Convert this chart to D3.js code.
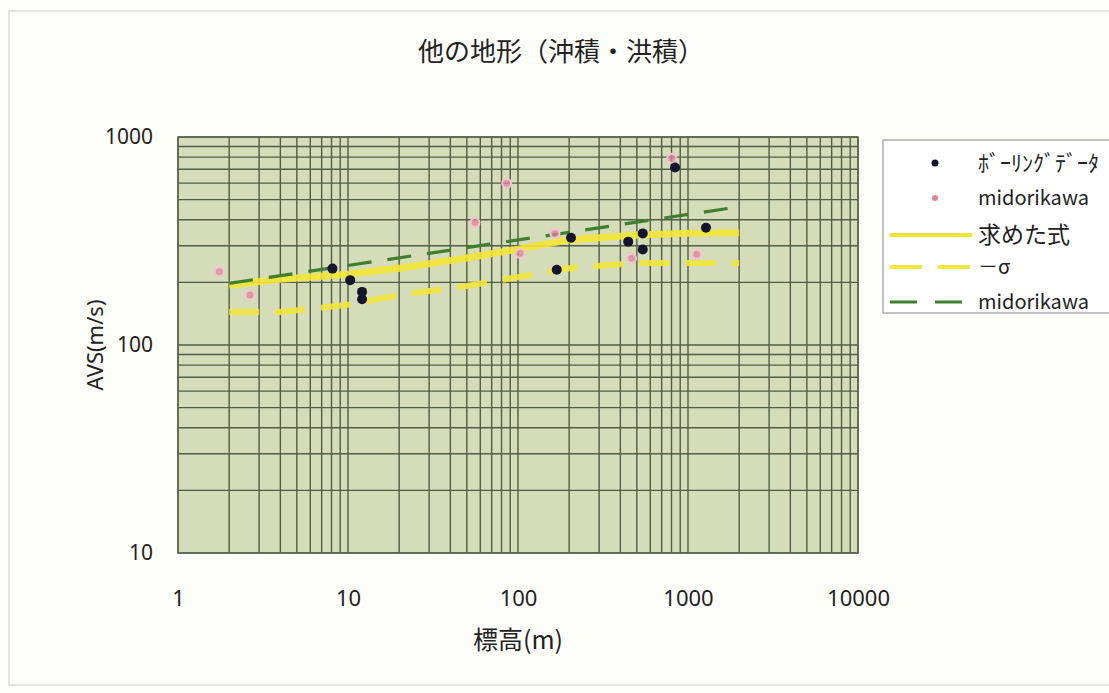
<!DOCTYPE html>
<html>
<head>
<meta charset="utf-8">
<script src="https://cdn.jsdelivr.net/npm/d3@7"></script>
<style>
  html, body { margin: 0; padding: 0; background: #fdfdf9; overflow: hidden; }
  svg { display: block; }
  text { font-family: "Noto Sans CJK JP", "Noto Sans", sans-serif; fill: #222; }
</style>
</head>
<body>
<svg id="chart" width="1109" height="693"></svg>
<script>
// Boring-log data: elevation (m) vs average S-wave velocity (m/s)
const boringElev = [8.1, 10.3, 12.1, 12.1, 169, 205, 445, 542, 542, 1276, 839];
const boringAvs  = [233, 205, 180, 166, 230, 328, 314, 344, 288, 366, 714];

// Reference points from Midorikawa
const midoriElev = [1.75, 2.65, 85.8, 55.9, 165, 103, 802, 466, 1125];
const midoriAvs  = [225, 174, 599, 388, 344, 276, 790, 261, 273];

// Fitted relation (solid yellow)
const fitElev = [2, 4, 10, 20, 50, 100, 200, 500, 1000, 2000];
const fitAvs  = [194, 207, 219, 234, 262, 289, 320, 338, 345, 346];

// Fit minus one standard deviation (dashed yellow)
const sigmaElev = [2, 4, 10, 20, 50, 100, 200, 500, 1000, 2000];
const sigmaAvs  = [144, 144, 156, 174, 192, 212, 234, 248, 248, 248];

// Midorikawa relation (dashed green)
const midoriLineElev = [2, 2000];
const midoriLineAvs  = [198, 462];

const xTickValues = [1, 10, 100, 1000, 10000];
const yTickValues = [10, 100, 1000];

const titleText = "他の地形（沖積・洪積）";
const xLabel = "標高(m)";
const yLabel = "AVS(m/s)";
const legendLabels = ["ﾎﾞｰﾘﾝｸﾞﾃﾞｰﾀ", "midorikawa", "求めた式", "－σ", "midorikawa"];

const svg = d3.select("#chart");

// chart area frame
svg.append("rect")
  .attr("x", 9).attr("y", 11).attr("width", 1120).attr("height", 674)
  .attr("fill", "none").attr("stroke", "#d4d4d0").attr("stroke-width", 1.2);

const plot = { left: 178, right: 858, top: 137, bottom: 553 };

const x = d3.scaleLog().domain([1, 10000]).range([plot.left, plot.right]);
const y = d3.scaleLog().domain([10, 1000]).range([plot.bottom, plot.top]);

// plot background
svg.append("rect")
  .attr("x", plot.left).attr("y", plot.top)
  .attr("width", plot.right - plot.left).attr("height", plot.bottom - plot.top)
  .attr("fill", "#d5dcba");

// log grid (major and minor lines)
const grid = svg.append("g").attr("stroke", "#3a4830").attr("stroke-width", 1.4).attr("opacity", 0.85);
grid.selectAll("line.v").data(x.ticks()).join("line")
  .attr("class", "v")
  .attr("x1", d => x(d)).attr("x2", d => x(d))
  .attr("y1", plot.top).attr("y2", plot.bottom);
grid.selectAll("line.h").data(y.ticks()).join("line")
  .attr("class", "h")
  .attr("x1", plot.left).attr("x2", plot.right)
  .attr("y1", d => y(d)).attr("y2", d => y(d));

// plot border
svg.append("rect")
  .attr("x", plot.left).attr("y", plot.top)
  .attr("width", plot.right - plot.left).attr("height", plot.bottom - plot.top)
  .attr("fill", "none").attr("stroke", "#5a6650").attr("stroke-width", 1.5);

// axes (labels only)
const xAxis = svg.append("g")
  .attr("transform", `translate(0,${plot.bottom})`)
  .call(d3.axisBottom(x).tickValues(xTickValues).tickFormat(d3.format("d")).tickSize(0).tickPadding(37));
xAxis.select(".domain").remove();
xAxis.selectAll("text").attr("font-size", 22).style("font-family", "'Noto Sans', sans-serif").attr("fill", "#222");

const yAxis = svg.append("g")
  .attr("transform", `translate(${plot.left},0)`)
  .call(d3.axisLeft(y).tickValues(yTickValues).tickFormat(d3.format("d")).tickSize(0).tickPadding(25));
yAxis.select(".domain").remove();
yAxis.selectAll("text").attr("font-size", 21).style("font-family", "'Noto Sans', sans-serif").attr("fill", "#222");

// lines
const lineGen = d3.line().x(d => x(d[0])).y(d => y(d[1]));
const zip = (a, b) => a.map((v, i) => [v, b[i]]);

svg.append("path").datum(zip(sigmaElev, sigmaAvs))
  .attr("d", lineGen).attr("fill", "none")
  .attr("stroke", "#f2e63c").attr("stroke-width", 6).attr("stroke-opacity", 0.9)
  .attr("stroke-dasharray", "30 16");

svg.append("path").datum(zip(fitElev, fitAvs))
  .attr("d", lineGen).attr("fill", "none")
  .attr("stroke", "#f3e535").attr("stroke-width", 7).attr("stroke-opacity", 0.9);

svg.append("path").datum(zip(midoriLineElev, midoriLineAvs))
  .attr("d", lineGen).attr("fill", "none")
  .attr("stroke", "#3f7f2e").attr("stroke-width", 3.2)
  .attr("stroke-dasharray", "24 16");

// points
svg.append("g").selectAll("circle").data(zip(midoriElev, midoriAvs)).join("circle")
  .attr("cx", d => x(d[0])).attr("cy", d => y(d[1])).attr("r", 4.5)
  .attr("fill", "#e0849c").attr("fill-opacity", 0.75)
  .attr("stroke", "#f2c4cf").attr("stroke-width", 2);

svg.append("g").selectAll("circle").data(zip(boringElev, boringAvs)).join("circle")
  .attr("cx", d => x(d[0])).attr("cy", d => y(d[1])).attr("r", 5)
  .attr("fill", "#14142c");

// title and axis titles
svg.append("text").attr("x", 561).attr("y", 61).attr("text-anchor", "middle")
  .attr("font-size", 26).text(titleText);
svg.append("text").attr("x", 518).attr("y", 649).attr("text-anchor", "middle")
  .attr("font-size", 25).text(xLabel);
svg.append("text").attr("transform", "translate(103,345) rotate(-90)").attr("text-anchor", "middle")
  .attr("font-size", 22).style("font-family", "'Noto Sans', sans-serif").text(yLabel);

// legend
const lg = svg.append("g");
lg.append("rect").attr("x", 883).attr("y", 140).attr("width", 260).attr("height", 173)
  .attr("fill", "#ffffff").attr("stroke", "#9a9a9a").attr("stroke-width", 1.2);
const rowY = [163, 198, 235, 267, 302];
const textX = 978;
lg.append("circle").attr("cx", 935).attr("cy", rowY[0]).attr("r", 3.5).attr("fill", "#14142c");
lg.append("circle").attr("cx", 935).attr("cy", rowY[1]).attr("r", 3).attr("fill", "#e0849c");
lg.append("line").attr("x1", 890).attr("x2", 972).attr("y1", rowY[2]).attr("y2", rowY[2])
  .attr("stroke", "#f3e535").attr("stroke-width", 4);
lg.append("line").attr("x1", 890).attr("x2", 972).attr("y1", rowY[3]).attr("y2", rowY[3])
  .attr("stroke", "#f2e63c").attr("stroke-width", 4).attr("stroke-dasharray", "32 16");
lg.append("line").attr("x1", 890).attr("x2", 972).attr("y1", rowY[4]).attr("y2", rowY[4])
  .attr("stroke", "#3f7f2e").attr("stroke-width", 3).attr("stroke-dasharray", "27 18");
lg.selectAll("text.lbl").data(legendLabels).join("text")
  .attr("class", "lbl")
  .attr("x", textX).attr("y", (d, i) => rowY[i]).attr("dy", "0.35em")
  .attr("font-size", (d, i) => [22, 20, 23, 20, 20][i])
  .text(d => d);
</script>
</body>
</html>
